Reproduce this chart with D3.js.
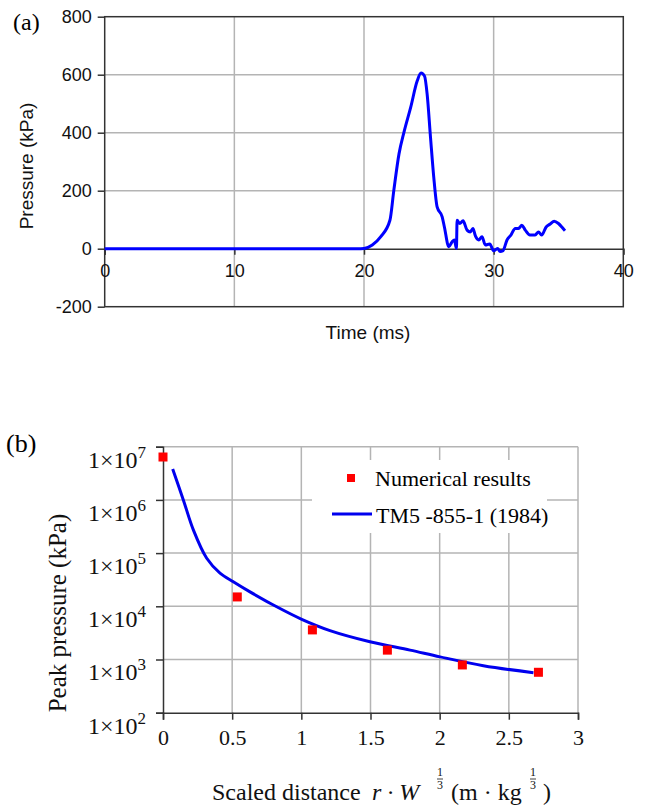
<html>
<head>
<meta charset="utf-8">
<script src="https://d3js.org/d3.v7.min.js"></script>
<style>
    body { margin: 0; background: #fff; }
    svg { display: block; }
    .sans { font-family: "Liberation Sans", Arial, sans-serif; }
    .serif { font-family: "Liberation Serif", "Times New Roman", serif; }
    .grid line { stroke: #b4b4b4; stroke-width: 1.5; }
    .axis path, .axis line { stroke: #333; stroke-width: 1.5; }
</style>
</head>
<body>
<svg id="chart" width="648" height="808"></svg>
<script>

    // ---- (a) pressure history ----
    let timeMs = [0, 5, 10, 15, 19.5, 20, 20.64, 21.28, 22.0, 22.3, 22.7, 23.08, 23.6, 24.1, 24.4, 24.67, 24.87,
        25.13, 25.38, 25.64, 26.03, 26.2, 26.54, 26.8, 26.97, 27.13, 27.18, 27.38, 27.64, 27.95, 28.2, 28.4,
        28.6, 28.85, 29.1, 29.36, 29.7, 30.0, 30.3, 30.5, 30.72, 31.03, 31.33, 31.67, 31.92, 32.18, 32.44,
        32.8, 33.2, 33.46, 33.7, 34.05, 34.36, 34.67, 35.0, 35.26, 35.5];
    let pressureKPa = [0, 0, 0, 0, 0, 1, 13, 41, 98, 201, 327, 401, 487, 578, 606, 595, 533,
        384, 247, 144, 110, 75, 7, 24, 30, 1, 98, 87, 96, 64, 58, 70,
        43, 30, 41, 13, 16, -7, 1, -10, -7, 30, 47, 70, 70, 81, 64,
        47, 47, 58, 47, 75, 85, 95, 87, 75, 62];
    let timeTicks = [0, 10, 20, 30, 40];
    let pressureTicks = [-200, 0, 200, 400, 600, 800];

    // ---- (b) peak pressure vs scaled distance ----
    let numDist = [0, 0.537, 1.08, 1.622, 2.164, 2.714];
    let numPeak = [6.4e6, 1.5e4, 3.6e3, 1.5e3, 790, 575];
    let tmDist = [0.07, 0.147, 0.22, 0.316, 0.412, 0.508, 0.629, 0.822, 1.003, 1.207, 1.496, 1.786, 2.003, 2.316, 2.678];
    let tmPeak = [3.8e6, 1.0e6, 2.7e5, 8.0e4, 4.2e4, 2.9e4, 1.87e4, 9.8e3, 5.7e3, 3.5e3, 2.16e3, 1.5e3, 1.12e3, 765, 565];
    let distTicks = [0, 0.5, 1, 1.5, 2, 2.5, 3];
    let peakTicks = [1e2, 1e3, 1e4, 1e5, 1e6, 1e7];

    let svg = d3.select('#chart');

    // ===== panel (a) =====
    let xa = d3.scaleLinear().domain([0, 40]).range([104.7, 623.3]);
    let ya = d3.scaleLinear().domain([-200, 800]).range([306.7, 16.7]);
    let ga = svg.append('g');

    ga.append('g').attr('class', 'grid')
        .selectAll('line.v').data(timeTicks.slice(1, -1)).enter().append('line')
        .attr('x1', d => xa(d)).attr('x2', d => xa(d))
        .attr('y1', ya(800)).attr('y2', ya(-200));
    ga.select('.grid')
        .selectAll('line.h').data(pressureTicks.filter(d => d != 0 && d != -200 && d != 800)).enter().append('line')
        .attr('x1', xa(0)).attr('x2', xa(40))
        .attr('y1', d => ya(d)).attr('y2', d => ya(d));

    // frame
    ga.append('rect').attr('x', xa(0)).attr('y', ya(800))
        .attr('width', xa(40) - xa(0)).attr('height', ya(-200) - ya(800))
        .attr('fill', 'none').attr('stroke', '#333').attr('stroke-width', 1.5);

    let plain = d => String(d);

    let yAxisA = ga.append('g').attr('class', 'axis sans')
        .attr('transform', 'translate(' + xa(0) + ',0)')
        .call(d3.axisLeft(ya).tickValues(pressureTicks).tickSize(7).tickPadding(6).tickFormat(plain));
    yAxisA.selectAll('text').attr('font-size', 18).attr('fill', '#111');
    yAxisA.select('.domain').remove();

    let xAxisA = ga.append('g').attr('class', 'axis sans')
        .attr('transform', 'translate(0,' + ya(0) + ')')
        .call(d3.axisBottom(xa).tickValues(timeTicks).tickSize(6).tickPadding(10).tickFormat(plain));
    xAxisA.selectAll('text').attr('font-size', 18).attr('fill', '#111');

    ga.append('path')
        .datum(timeMs.map((t, i) => [t, pressureKPa[i]]))
        .attr('fill', 'none').attr('stroke', '#0000ff').attr('stroke-width', 3)
        .attr('stroke-linejoin', 'round')
        .attr('d', d3.line().x(d => xa(d[0])).y(d => ya(d[1])).curve(d3.curveMonotoneX));

    ga.append('text').attr('class', 'serif').attr('x', 13).attr('y', 30)
        .attr('font-size', 24).text('(a)');
    ga.append('text').attr('class', 'sans').attr('font-size', 19)
        .attr('transform', 'translate(33,166) rotate(-90)')
        .attr('text-anchor', 'middle').attr('fill', '#111')
        .text('Pressure  (kPa)');
    ga.append('text').attr('class', 'sans').attr('font-size', 19)
        .attr('x', 368).attr('y', 339).attr('text-anchor', 'middle').attr('fill', '#111')
        .text('Time  (ms)');

    // ===== panel (b) =====
    let xb = d3.scaleLinear().domain([0, 3]).range([163, 578]);
    let yb = d3.scaleLog().domain([1e2, 1e7]).range([712.7, 446.7]);
    let gb = svg.append('g');

    let gridB = gb.append('g').attr('class', 'grid');
    gridB.selectAll('line.v').data(distTicks.slice(1)).enter().append('line')
        .attr('x1', d => xb(d)).attr('x2', d => xb(d))
        .attr('y1', yb(1e7)).attr('y2', yb(1e2));
    gridB.selectAll('line.h').data(peakTicks.slice(1)).enter().append('line')
        .attr('x1', xb(0)).attr('x2', xb(3))
        .attr('y1', d => yb(d)).attr('y2', d => yb(d));

    let yAxisB = gb.append('g').attr('class', 'axis serif')
        .attr('transform', 'translate(' + xb(0) + ',0)')
        .call(d3.axisLeft(yb).tickValues(peakTicks).tickSize(7).tickPadding(10).tickFormat(''));
    yAxisB.selectAll('.tick text')
        .attr('font-size', 24).attr('fill', '#111').attr('dy', '0.85em')
        .each(function(d) {
            let t = d3.select(this);
            t.append('tspan').text('1\u00d710');
            t.append('tspan').attr('font-size', 17).attr('dy', -10).text(Math.round(Math.log10(d)));
        });

    let xAxisB = gb.append('g').attr('class', 'axis serif')
        .attr('transform', 'translate(0,' + yb(1e2) + ')')
        .call(d3.axisBottom(xb).tickValues(distTicks).tickSize(7).tickPadding(10).tickFormat(d3.format('')));
    xAxisB.selectAll('text').attr('font-size', 22).attr('fill', '#111');

    // legend background hides grid
    gb.append('rect').attr('x', 312).attr('y', 460).attr('width', 235).attr('height', 73).attr('fill', '#fff');

    gb.append('path')
        .datum(tmDist.map((d, i) => [d, tmPeak[i]]))
        .attr('fill', 'none').attr('stroke', '#0000ee').attr('stroke-width', 3)
        .attr('d', d3.line().x(d => xb(d[0])).y(d => yb(d[1])).curve(d3.curveCatmullRom));

    gb.selectAll('rect.pt').data(numDist.map((d, i) => [d, numPeak[i]])).enter().append('rect')
        .attr('class', 'pt')
        .attr('x', d => xb(d[0]) - 4.5).attr('y', d => yb(d[1]) - 4.5)
        .attr('width', 9).attr('height', 9).attr('fill', '#ff0000');

    // legend
    gb.append('rect').attr('x', 347).attr('y', 474).attr('width', 8).attr('height', 8).attr('fill', '#ff0000');
    gb.append('text').attr('class', 'serif').attr('x', 375).attr('y', 486).attr('font-size', 22)
        .text('Numerical results');
    gb.append('line').attr('x1', 332).attr('x2', 372).attr('y1', 514).attr('y2', 514)
        .attr('stroke', '#0000ee').attr('stroke-width', 3);
    gb.append('text').attr('class', 'serif').attr('x', 376).attr('y', 523).attr('font-size', 22)
        .text('TM5 -855-1 (1984)');

    gb.append('text').attr('class', 'serif').attr('x', 6).attr('y', 452)
        .attr('font-size', 26).text('(b)');
    gb.append('text').attr('class', 'serif').attr('font-size', 25)
        .attr('transform', 'translate(66,613) rotate(-90)')
        .attr('text-anchor', 'middle').attr('fill', '#111')
        .text('Peak pressure (kPa)');

    // x label with fractional exponents
    let xl = gb.append('g').attr('class', 'serif').attr('fill', '#111');
    xl.append('text').attr('x', 212).attr('y', 800).attr('font-size', 24).text('Scaled distance');
    xl.append('text').attr('x', 372).attr('y', 800).attr('font-size', 24).attr('font-style', 'italic').text('r \u00b7 W');
    xl.append('text').attr('x', 451).attr('y', 800).attr('font-size', 24).text('(m \u00b7 kg');
    xl.append('text').attr('x', 543).attr('y', 800).attr('font-size', 24).text(')');
    [440, 533].forEach(cx => {
        xl.append('text').attr('x', cx).attr('y', 776).attr('font-size', 12).attr('text-anchor', 'middle').text('1');
        xl.append('line').attr('x1', cx - 3).attr('x2', cx + 3).attr('y1', 779).attr('y2', 779).attr('stroke', '#111').attr('stroke-width', 0.8);
        xl.append('text').attr('x', cx).attr('y', 789).attr('font-size', 12).attr('text-anchor', 'middle').text('3');
    });

</script>
</body>
</html>
